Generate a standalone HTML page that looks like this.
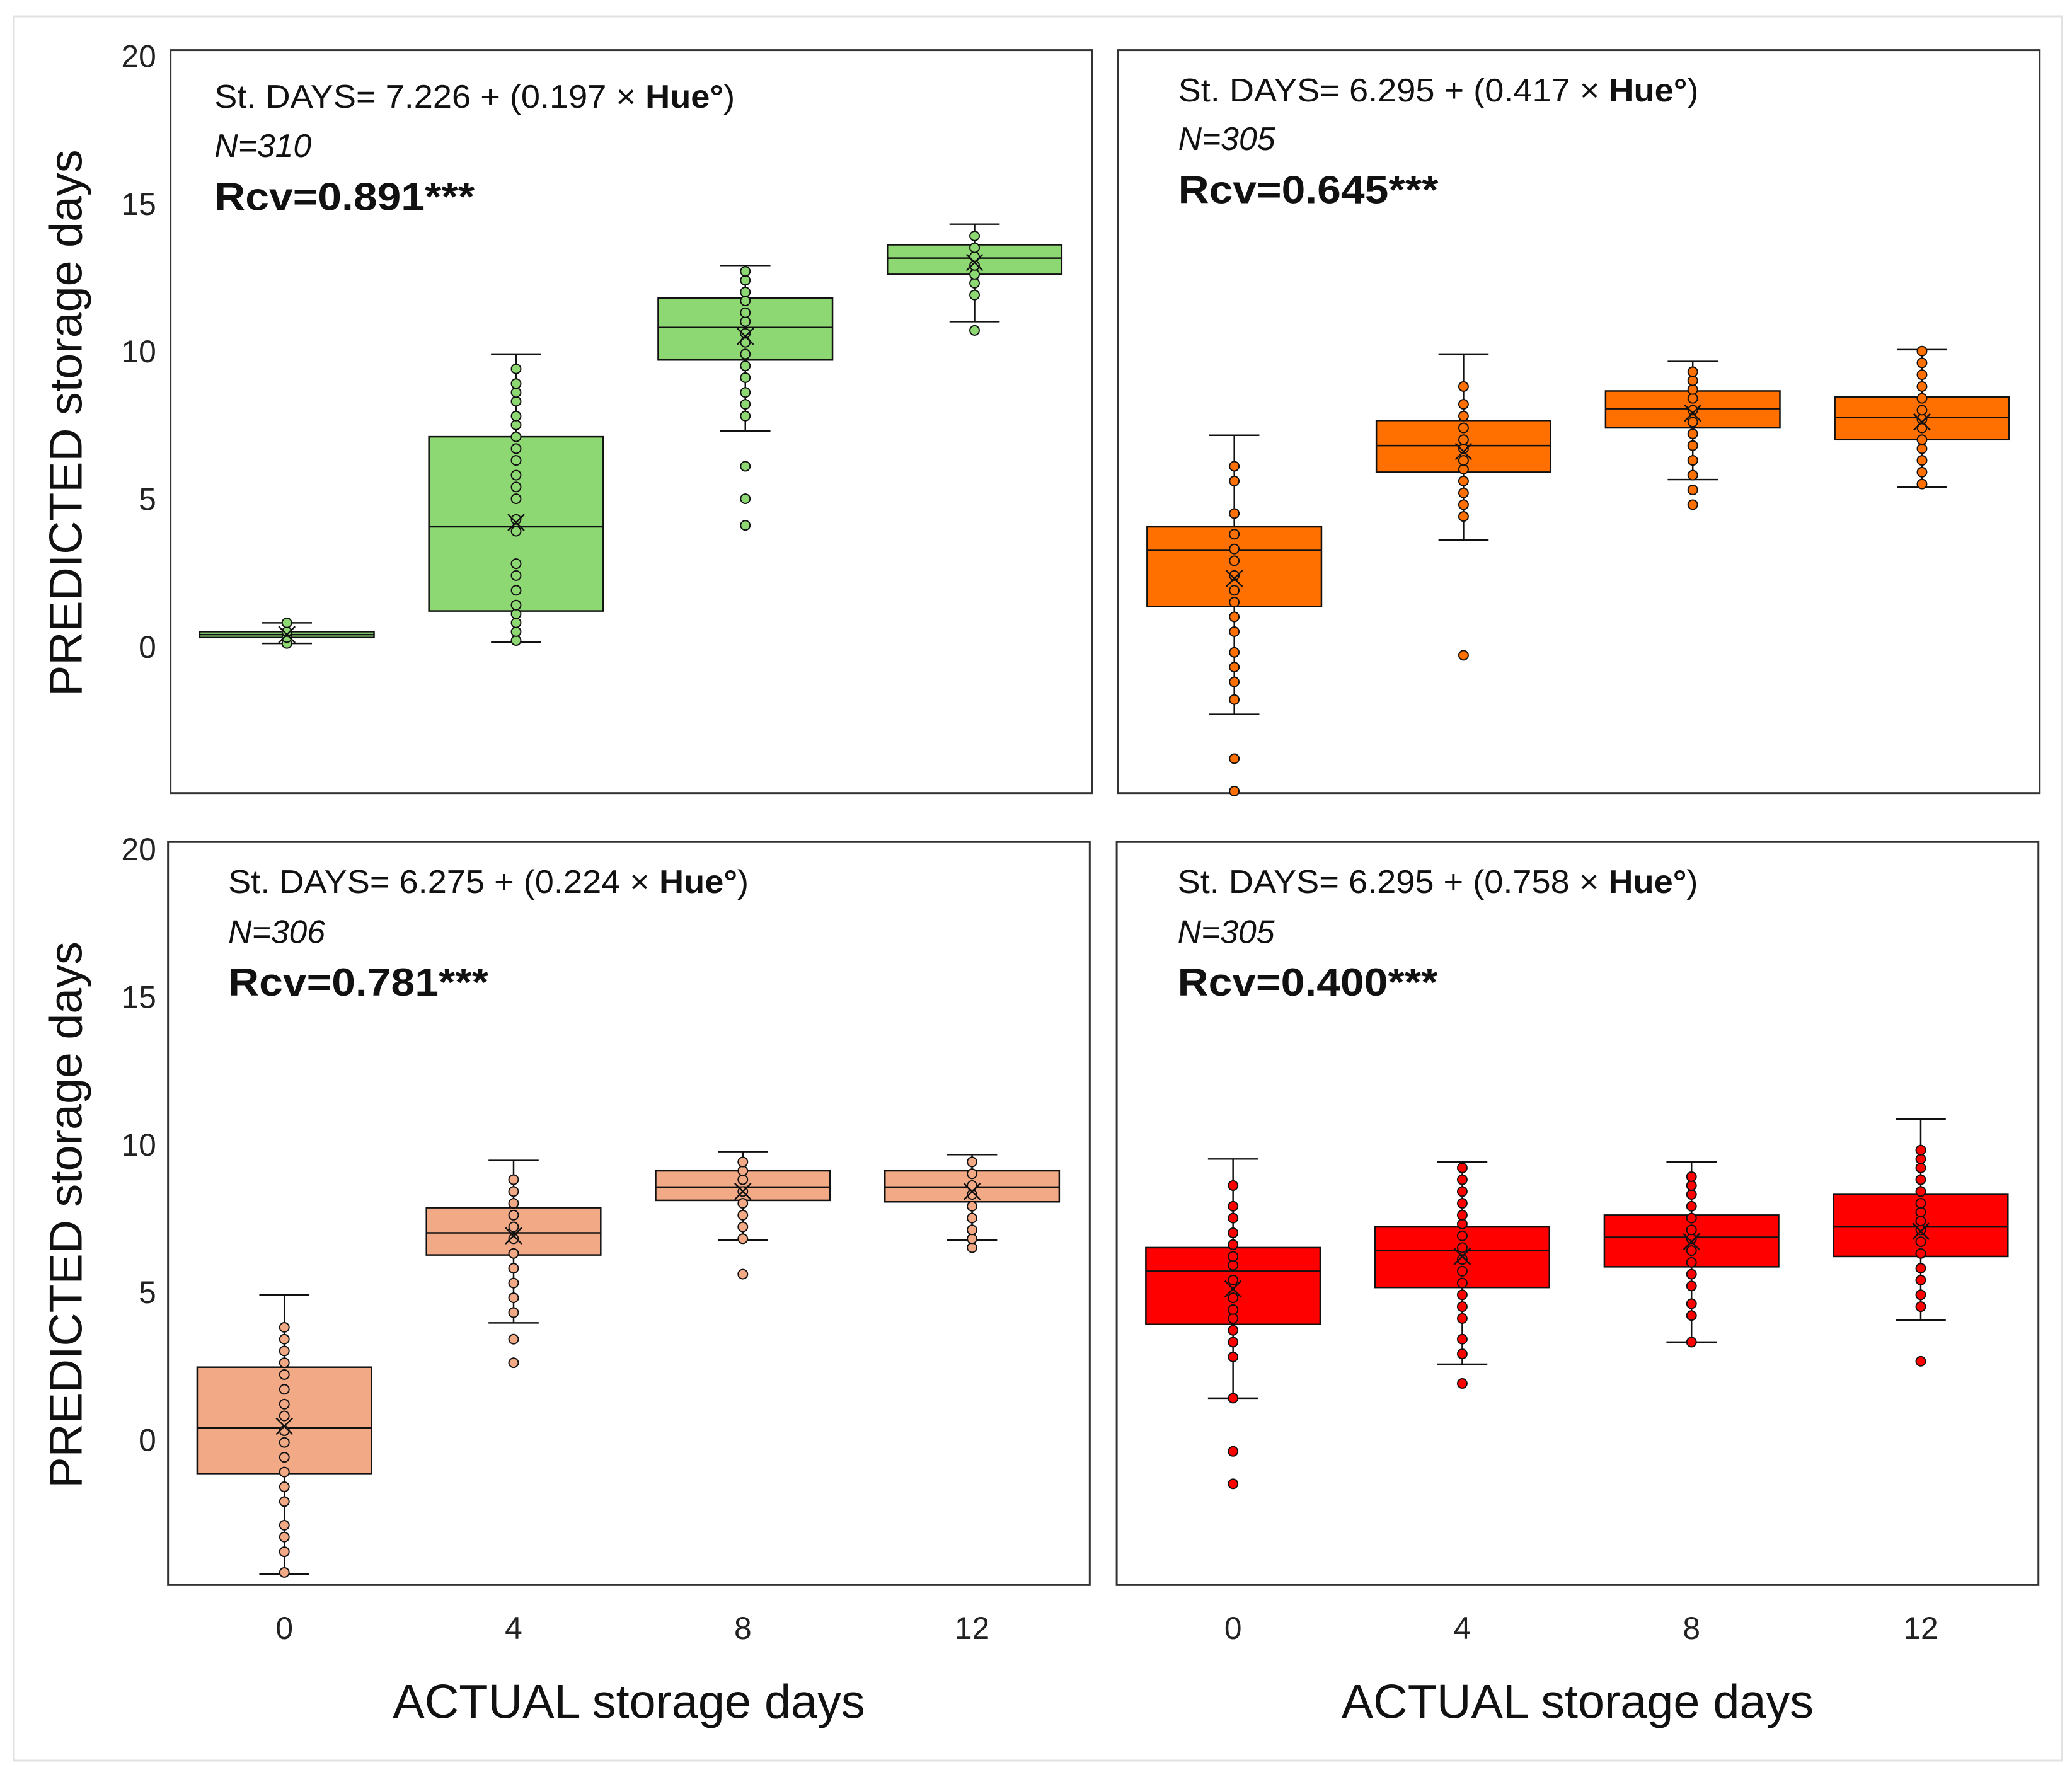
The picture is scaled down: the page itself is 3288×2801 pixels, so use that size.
<!DOCTYPE html>
<html><head><meta charset="utf-8"><style>
html,body{margin:0;padding:0;background:#fff}
svg{display:block;font-family:"Liberation Sans",sans-serif}
</style></head><body>
<svg id="fig" width="3288" height="2801" viewBox="0 0 3288 2801" xmlns="http://www.w3.org/2000/svg">
<rect x="22" y="26" width="3250" height="2768" fill="none" stroke="#e2e2e2" stroke-width="3"/>
<g id="root" transform="scale(0.995)"></g>
</svg>
<script>
const categories = ["0","4","8","12"];
const yTicks = [0,5,10,15,20];
// stats per panel: [q1, median, q3, whiskerLow, whiskerHigh, mean]
const statsGreen  = [[0.3,0.4,0.5,0.1,0.8,0.4],[1.2,4.05,7.1,0.15,9.9,4.2],[9.7,10.8,11.8,7.3,12.9,10.5],[12.6,13.15,13.6,11.0,14.3,13.0]];
const statsOrange = [[1.35,3.25,4.05,-2.3,7.15,2.3],[5.9,6.8,7.65,3.6,9.9,6.6],[7.4,8.05,8.65,5.65,9.65,7.9],[7.0,7.75,8.45,5.4,10.05,7.6]];
const statsSalmon = [[-1.15,0.4,2.45,-4.55,4.9,0.45],[6.25,7.0,7.85,3.95,9.45,6.9],[8.1,8.55,9.1,6.75,9.75,8.4],[8.05,8.55,9.1,6.75,9.65,8.4]];
const statsRed    = [[3.9,5.7,6.5,1.4,9.5,5.1],[5.15,6.4,7.2,2.55,9.4,6.2],[5.85,6.85,7.6,3.3,9.4,6.7],[6.2,7.2,8.3,4.05,10.85,7.05]];
const ptsGreen = [[0.1,0.3,0.5,0.8],
 [0.2,0.5,0.8,1.1,1.4,1.9,2.4,2.8,3.9,4.3,5.0,5.4,5.8,6.3,6.7,7.1,7.5,7.8,8.3,8.6,8.9,9.4],
 [4.1,5.0,6.1,7.8,8.2,8.6,9.1,9.5,9.9,10.3,10.6,11.0,11.3,11.7,12.0,12.4,12.7],
 [10.7,11.9,12.3,12.6,12.9,13.2,13.5,13.9]];
const ptsOrange = [[-4.9,-3.8,-1.8,-1.2,-0.7,-0.2,0.5,1.0,1.5,1.9,2.4,2.9,3.3,3.8,4.5,5.6,6.1],
 [-0.3,4.4,4.8,5.2,5.6,6.0,6.3,6.7,7.0,7.4,7.8,8.2,8.8],
 [4.8,5.3,5.8,6.3,6.8,7.2,7.6,8.0,8.4,8.7,9.0,9.3],
 [5.5,5.9,6.3,6.7,7.0,7.4,7.7,8.0,8.4,8.8,9.2,9.6,10.0]];
const ptsSalmon = [[-4.5,-3.8,-3.3,-2.9,-2.1,-1.6,-1.1,-0.6,-0.1,0.3,0.8,1.2,1.7,2.2,2.6,3.0,3.4,3.8],
 [2.6,3.4,4.3,4.8,5.3,5.8,6.3,6.8,7.2,7.6,8.0,8.4,8.8],
 [5.6,6.8,7.2,7.6,8.0,8.4,8.8,9.1,9.4],
 [6.5,6.8,7.1,7.5,7.9,8.3,8.6,9.0,9.4]];
const ptsRed = [[-1.5,-0.4,1.4,2.8,3.3,3.7,4.1,4.4,4.8,5.4,5.9,6.2,6.6,7.0,7.5,7.9,8.6],
 [1.9,2.9,3.4,4.1,4.5,4.9,5.3,5.7,6.1,6.5,6.9,7.3,7.6,8.0,8.4,8.8,9.2],
 [3.3,4.2,4.6,5.2,5.6,6.0,6.4,6.8,7.1,7.5,7.9,8.3,8.6,8.9],
 [2.65,4.5,4.9,5.4,5.8,6.3,6.7,7.1,7.4,7.7,8.0,8.4,8.8,9.2,9.5,9.8]];

const NS="http://www.w3.org/2000/svg";
const root=document.getElementById('root');
function el(tag,attrs,parent){const e=document.createElementNS(NS,tag);for(const k in attrs)e.setAttribute(k,attrs[k]);(parent||root).appendChild(e);return e;}

const panels=[
 {name:'panel-hue-green',left:272,top:80,bottom:1265,zero:1031,stats:statsGreen,pts:ptsGreen,fill:'#8ed874',eq:['7.226','0.197'],n:'310',r:'0.891',yl:true,xl:false,tx:342,ty:[172,250,335]},
 {name:'panel-hue-orange',left:1783,top:80,bottom:1265,zero:1031,stats:statsOrange,pts:ptsOrange,fill:'#ff7000',eq:['6.295','0.417'],n:'305',r:'0.645',yl:false,xl:false,tx:1879,ty:[162,239,324]},
 {name:'panel-hue-salmon',left:268,top:1343,bottom:2528,zero:2296,stats:statsSalmon,pts:ptsSalmon,fill:'#f2a985',eq:['6.275','0.224'],n:'306',r:'0.781',yl:true,xl:true,tx:364,ty:[1424,1504,1588]},
 {name:'panel-hue-red',left:1781,top:1343,bottom:2528,zero:2296,stats:statsRed,pts:ptsRed,fill:'#ff0000',eq:['6.295','0.758'],n:'305',r:'0.400',yl:false,xl:true,tx:1878,ty:[1424,1504,1588]}
];
const W=1470, UNIT=47.1, STEP=365.6, OFF=185.5, BW=278;

panels.forEach(p=>{
 const g=el('g',{});
 
 
 const y=v=>p.zero-UNIT*v;
 const x=i=>p.left+OFF+STEP*i;
 const frame=el('rect',{x:p.left,y:p.top,width:W,height:p.bottom-p.top,fill:'#fff',stroke:'#333',"stroke-width":3},g);
 
 
 if(p.yl){yTicks.forEach(t=>{const tt=el('text',{x:249,y:y(t)+18,"text-anchor":"end","font-size":50,fill:'#222'},g);tt.textContent=t;
  
  });
  const yt=el('text',{transform:`translate(130,${(p.top+p.bottom)/2+2}) rotate(-90)`,"text-anchor":"middle","font-size":74,fill:'#111'},g);
  yt.textContent='PREDICTED storage days';
  
  }
 if(p.xl){categories.forEach((c,i)=>{const tt=el('text',{x:x(i),y:2614,"text-anchor":"middle","font-size":50,fill:'#222'},g);tt.textContent=c;
  
  });
  const xt=el('text',{x:p.left+W/2,y:2740,"text-anchor":"middle","font-size":76,fill:'#111'},g);
  xt.textContent='ACTUAL storage days';
  
  }
 p.stats.forEach((s,i)=>{
  const [q1,med,q3,wl,wh,mean]=s; const cx=x(i);
  const b=el('g',{},g);
  
  
  el('line',{x1:cx,x2:cx,y1:y(wl),y2:y(wh),stroke:'#111',"stroke-width":2.5},b);
  el('line',{x1:cx-40,x2:cx+40,y1:y(wl),y2:y(wl),stroke:'#111',"stroke-width":2.5},b);
  el('line',{x1:cx-40,x2:cx+40,y1:y(wh),y2:y(wh),stroke:'#111',"stroke-width":2.5},b);
  el('rect',{x:cx-BW/2,y:y(q3),width:BW,height:Math.max(2,y(q1)-y(q3)),fill:p.fill,stroke:'#111',"stroke-width":2.5},b);
  el('line',{x1:cx-BW/2,x2:cx+BW/2,y1:y(med),y2:y(med),stroke:'#111',"stroke-width":2.5},b);
  p.pts[i].forEach(v=>{const c=el('circle',{cx:cx,cy:y(v),r:7.5,fill:p.fill,stroke:'#111',"stroke-width":2},b);
   
   });
  const m=y(mean);
  el('path',{d:`M${cx-13} ${m-13}L${cx+13} ${m+13}M${cx+13} ${m-13}L${cx-13} ${m+13}`,stroke:'#111',"stroke-width":2.5},b);
 });
 const t1=el('text',{x:p.tx,y:p.ty[0],"font-size":52,fill:'#111',textLength:830,lengthAdjust:'spacingAndGlyphs'},g);
 t1.innerHTML=`St. DAYS= ${p.eq[0]} + (${p.eq[1]} × <tspan font-weight="bold">Hue°</tspan>)`;
 
 
 const t2=el('text',{x:p.tx,y:p.ty[1],"font-size":52,"font-style":"italic",fill:'#111'},g);
 t2.textContent='N='+p.n;
 
 
 const t3=el('text',{x:p.tx,y:p.ty[2],"font-size":62,"font-weight":"bold",fill:'#111',textLength:415,lengthAdjust:'spacingAndGlyphs'},g);
 t3.textContent='Rcv='+p.r+'***';
 
 
});
</script>
</body></html>
